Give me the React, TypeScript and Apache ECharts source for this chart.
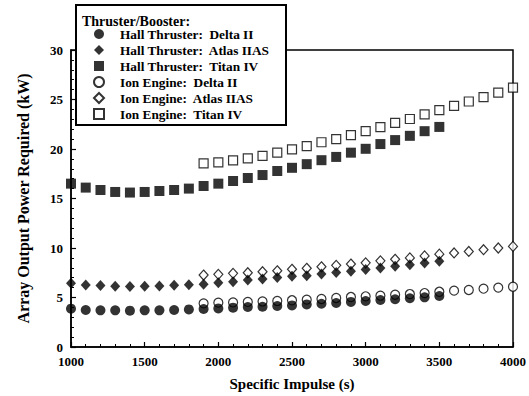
import React, { useEffect, useRef } from "react";
import * as echarts from "echarts";

// Specific impulse sample points (s)
const hallImpulse = [1000, 1100, 1200, 1300, 1400, 1500, 1600, 1700, 1800, 1900, 2000, 2100, 2200, 2300, 2400, 2500, 2600, 2700, 2800, 2900, 3000, 3100, 3200, 3300, 3400, 3500];
const ionImpulse = [1900, 2000, 2100, 2200, 2300, 2400, 2500, 2600, 2700, 2800, 2900, 3000, 3100, 3200, 3300, 3400, 3500, 3600, 3700, 3800, 3900, 4000];

// Array output power required (kW)
const hallDeltaII = [3.87, 3.74, 3.7, 3.7, 3.67, 3.7, 3.7, 3.74, 3.8, 3.84, 3.9, 3.97, 4.04, 4.07, 4.14, 4.2, 4.3, 4.37, 4.44, 4.55, 4.65, 4.75, 4.82, 4.92, 5.02, 5.15];
const hallAtlasIIAS = [6.43, 6.26, 6.2, 6.13, 6.1, 6.13, 6.16, 6.23, 6.3, 6.33, 6.5, 6.6, 6.77, 6.87, 7.02, 7.15, 7.2, 7.38, 7.52, 7.66, 7.82, 7.98, 8.15, 8.32, 8.49, 8.67];
const hallTitanIV = [16.5, 16.1, 15.86, 15.66, 15.6, 15.66, 15.76, 15.86, 16.0, 16.26, 16.5, 16.77, 17.07, 17.37, 17.78, 18.1, 18.47, 18.87, 19.2, 19.63, 20.02, 20.5, 20.9, 21.33, 21.8, 22.23];
const ionDeltaII = [4.41, 4.48, 4.5, 4.55, 4.6, 4.65, 4.72, 4.78, 4.85, 4.95, 5.05, 5.12, 5.18, 5.28, 5.35, 5.45, 5.58, 5.69, 5.76, 5.89, 6.0, 6.09];
const ionAtlasIIAS = [7.27, 7.34, 7.44, 7.5, 7.6, 7.7, 7.85, 7.95, 8.1, 8.25, 8.38, 8.5, 8.7, 8.86, 9.0, 9.2, 9.38, 9.5, 9.65, 9.83, 10.0, 10.16];
const ionTitanIV = [18.55, 18.65, 18.85, 19.06, 19.3, 19.63, 19.97, 20.3, 20.68, 21.0, 21.4, 21.8, 22.2, 22.63, 23.03, 23.5, 23.92, 24.35, 24.8, 25.25, 25.7, 26.2];

const seriesNames = [
  "Hall Thruster:\u00a0 Delta II",
  "Hall Thruster:\u00a0 Atlas IIAS",
  "Hall Thruster:\u00a0 Titan IV",
  "Ion Engine:\u00a0 Delta II",
  "Ion Engine:\u00a0 Atlas IIAS",
  "Ion Engine:\u00a0 Titan IV",
];

const FONT = '"Liberation Serif", "Times New Roman", serif';

const zip = (xs: number[], ys: number[]) => xs.map((x, i) => [x, ys[i]]);

export default function App() {
  const ref = useRef<HTMLDivElement>(null);

  useEffect(() => {
    if (!ref.current) return;
    const chart = echarts.init(ref.current, undefined, { renderer: "svg" });

    const filled = { color: "#000", borderColor: "#000", borderWidth: 0 };
    const open = { color: "#fff", borderColor: "#000", borderWidth: 1.2 };

    const axisCommon = {
      axisLine: { show: true, onZero: false, lineStyle: { color: "#000", width: 1.5 } },
      axisTick: { show: true, inside: true, length: 5, lineStyle: { color: "#000", width: 1.2 } },
      minorTick: { show: true, splitNumber: 5, length: 3, lineStyle: { color: "#000", width: 1 } },
      splitLine: { show: false },
      minorSplitLine: { show: false },
      axisLabel: {
        color: "#000",
        fontSize: 13,
        fontWeight: "bold",
        fontFamily: FONT,
        margin: 8,
        formatter: (v: number) => String(v),
      },
      nameLocation: "middle",
      nameTextStyle: { color: "#000", fontWeight: "bold", fontFamily: FONT },
    };

    chart.setOption({
      animation: false,
      backgroundColor: "#fff",
      grid: {
        left: 71,
        right: 16,
        top: 50,
        bottom: 49,
        show: true,
        borderColor: "#000",
        borderWidth: 1.5,
        backgroundColor: "transparent",
      },
      xAxis: {
        type: "value",
        min: 1000,
        max: 4000,
        interval: 500,
        ...axisCommon,
        name: "Specific Impulse (s)",
        nameGap: 29,
        nameTextStyle: { ...axisCommon.nameTextStyle, fontSize: 15 },
      },
      yAxis: {
        type: "value",
        min: 0,
        max: 30,
        interval: 5,
        ...axisCommon,
        name: "Array Output Power Required (kW)",
        nameGap: 40,
        nameTextStyle: { ...axisCommon.nameTextStyle, fontSize: 16 },
      },
      legend: {
        show: true,
        orient: "vertical",
        left: 93,
        top: 26,
        padding: 0,
        itemWidth: 10,
        itemHeight: 10,
        itemGap: 0,
        selectedMode: false,
        z: 10,
        data: seriesNames,
        textStyle: {
          color: "#000",
          fontSize: 13.3,
          fontWeight: "bold",
          fontFamily: FONT,
          lineHeight: 16,
          padding: [0, 0, 0, 11],
        },
      },
      graphic: [
        {
          type: "rect",
          z: 5,
          shape: { x: 76, y: 5, width: 210, height: 120 },
          style: { fill: "#fff", stroke: "#000", lineWidth: 2 },
        },
        {
          type: "text",
          z: 11,
          x: 82,
          y: 21,
          style: {
            text: "Thruster/Booster:",
            font: `bold 14px ${FONT}`,
            fill: "#000",
            verticalAlign: "middle",
          },
        },
      ],
      series: [
        {
          name: seriesNames[3],
          type: "scatter",
          symbol: "circle",
          symbolSize: 9,
          itemStyle: open,
          data: zip(ionImpulse, ionDeltaII),
          z: 2,
        },
        {
          name: seriesNames[4],
          type: "scatter",
          symbol: "diamond",
          symbolSize: [9, 10],
          itemStyle: open,
          data: zip(ionImpulse, ionAtlasIIAS),
          z: 2,
        },
        {
          name: seriesNames[5],
          type: "scatter",
          symbol: "rect",
          symbolSize: 9,
          itemStyle: open,
          data: zip(ionImpulse, ionTitanIV),
          z: 2,
        },
        {
          name: seriesNames[0],
          type: "scatter",
          symbol: "circle",
          symbolSize: 10,
          itemStyle: filled,
          data: zip(hallImpulse, hallDeltaII),
          z: 3,
        },
        {
          name: seriesNames[1],
          type: "scatter",
          symbol: "diamond",
          symbolSize: [10, 11],
          itemStyle: filled,
          data: zip(hallImpulse, hallAtlasIIAS),
          z: 3,
        },
        {
          name: seriesNames[2],
          type: "scatter",
          symbol: "rect",
          symbolSize: 10,
          itemStyle: filled,
          data: zip(hallImpulse, hallTitanIV),
          z: 3,
        },
      ],
    });

    return () => chart.dispose();
  }, []);

  return (
    <div
      ref={ref}
      style={{ position: "fixed", left: 0, top: 0, width: 529, height: 396, background: "#fff" }}
    />
  );
}
